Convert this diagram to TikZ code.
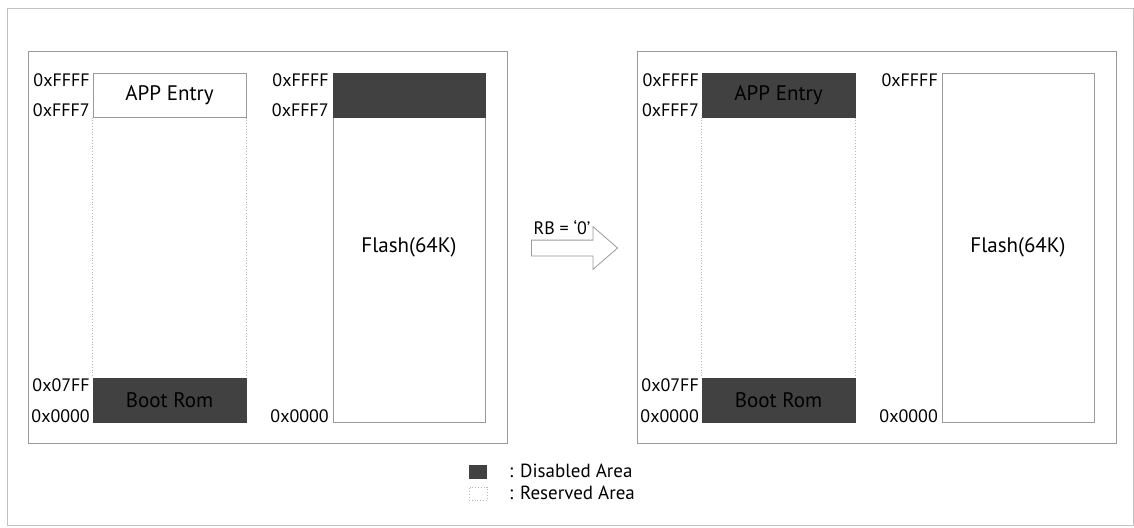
\documentclass[tikz,border=0pt]{standalone}
\usepackage{fontspec}
\setmainfont{PT Sans}
\usetikzlibrary{shapes.arrows}
\definecolor{disgray}{HTML}{414141}
\definecolor{linegray}{HTML}{9A9A9A}

\begin{document}
\begin{tikzpicture}[x=1pt,y=-1pt,
  txt/.style={font=\fontsize{18}{20}\selectfont,inner sep=0pt},
  bigtxt/.style={font=\fontsize{21}{23}\selectfont},
  addr/.style={txt,anchor=east},
  panel/.style={draw=linegray,line width=1pt,inner sep=0pt},
  membox/.style={draw=linegray,line width=1pt,inner sep=0pt,minimum width=153pt,bigtxt},
  disabled/.style={membox,fill=disgray,draw=disgray},
  reserved/.style={draw=linegray!70,dotted,line width=0.8pt}]
\useasboundingbox (0,0) rectangle (1134,527);
\node[draw=linegray!60,line width=0.8pt,minimum width=1126pt,minimum height=517pt,inner sep=0pt] (frame) at (570,266.5) {};

% before
\node[panel,minimum width=479pt,minimum height=391pt] (lpanel) at (267.5,247.5) {};
\node[membox,minimum height=44pt] (lapp) at (169.5,95) {APP Entry};
\node[disabled,minimum height=44pt] (lboot) at (169.5,400) {Boot Rom};
\draw[reserved] (lapp.south west) -- (lboot.north west);
\draw[reserved] (lapp.south east) -- (lboot.north east);
\node[membox,minimum width=152pt,minimum height=349pt] (lflash) at (409,247.5) {Flash(64K)};
\node[disabled,minimum width=152pt,minimum height=44pt] (ltop) at (409,95) {};
\node[addr] (la1) at (90,80) {0xFFFF};
\node[addr] (la2) at (90,110) {0xFFF7};
\node[addr] (la3) at (90,385) {0x07FF};
\node[addr] (la4) at (90,416) {0x0000};
\node[addr] (lf1) at (329,80) {0xFFFF};
\node[addr] (lf2) at (329,110) {0xFFF7};
\node[addr] (lf3) at (329,416) {0x0000};

% RB = '0'
\node[single arrow,draw=linegray,fill=white,line width=0.8pt,inner xsep=0pt,inner ysep=7.5pt,minimum width=42pt,minimum height=86pt,single arrow head extend=13.5pt,single arrow tip angle=82] (rbarrow) at (570,248) {};
\node[txt] (rblabel) at (562,228) {RB = ‘0’};

% after
\node[panel,minimum width=479pt,minimum height=391pt] (rpanel) at (876.5,247.5) {};
\node[disabled,minimum height=44pt] (rapp) at (778.5,95) {APP Entry};
\node[disabled,minimum height=44pt] (rboot) at (778.5,400) {Boot Rom};
\draw[reserved] (rapp.south west) -- (rboot.north west);
\draw[reserved] (rapp.south east) -- (rboot.north east);
\node[membox,minimum width=152pt,minimum height=349pt] (rflash) at (1018,247.5) {Flash(64K)};
\node[addr] (ra1) at (699,80) {0xFFFF};
\node[addr] (ra2) at (699,110) {0xFFF7};
\node[addr] (ra3) at (699,385) {0x07FF};
\node[addr] (ra4) at (699,416) {0x0000};
\node[addr] (rf1) at (938,80) {0xFFFF};
\node[addr] (rf3) at (938,416) {0x0000};

% legend
\node[fill=disgray,minimum width=18pt,minimum height=14pt,inner sep=0pt] (disleg) at (478,472) {};
\node[reserved,minimum width=18pt,minimum height=13pt,inner sep=0pt] (resleg) at (478,493.5) {};
\node[txt,font=\fontsize{19}{21}\selectfont,anchor=west] (distxt) at (509,471) {: Disabled Area};
\node[txt,font=\fontsize{19}{21}\selectfont,anchor=west] (restxt) at (509,493) {: Reserved Area};
\end{tikzpicture}
\end{document}
